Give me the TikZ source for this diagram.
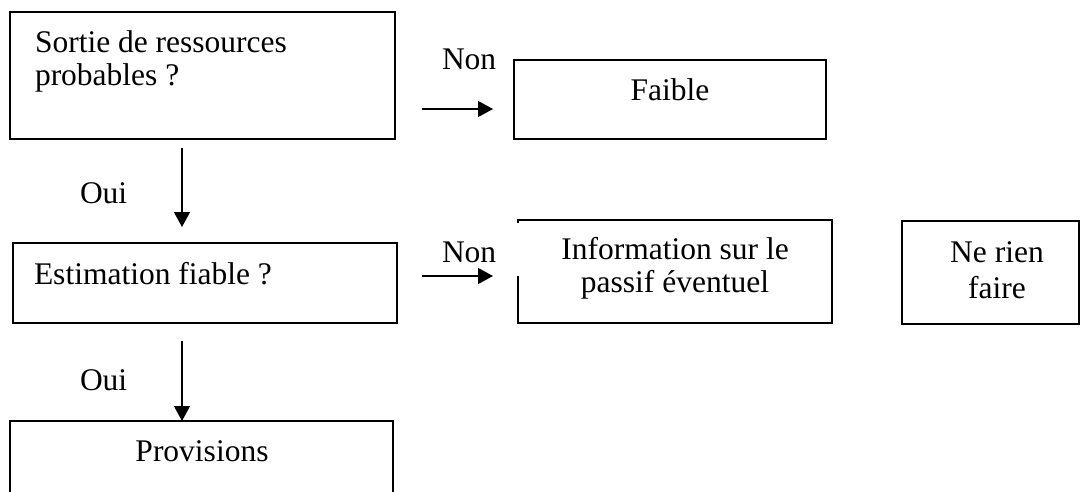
\documentclass[tikz,border=0pt]{standalone}
\usepackage{fontspec}
\setmainfont{Liberation Serif}
\usetikzlibrary{arrows.meta}
\begin{document}
\begin{tikzpicture}[x=1pt,y=-1pt,
  box/.style={draw, line width=1.6pt, rectangle, inner sep=0pt, outer sep=0pt, anchor=north west},
  txt/.style={inner sep=0pt, outer sep=0pt, font=\fontsize{31.5}{34}\selectfont},
  arr/.style={line width=1.3pt, -{Triangle[length=15pt,width=16pt]}}]
\useasboundingbox (0,0) rectangle (1081,492);
\clip (0,0) rectangle (1081,492);
% boxes
\node[box, minimum width=385pt, minimum height=127pt] (b1) at (10,12) {};
\node[box, minimum width=312pt, minimum height=79pt] (fa) at (514,60) {};
\node[box, minimum width=384pt, minimum height=80pt] (b2) at (13,243) {};
\node[box, minimum width=314pt, minimum height=103pt] (in) at (518,220) {};
\node[box, minimum width=177pt, minimum height=103pt] (nr) at (902,221) {};
\node[box, minimum width=383pt, minimum height=100pt] (pr) at (10,421) {};
% gap in the left edge of the information box
\draw[white, line width=2.4pt] ([yshift=-3pt]in.north west) -- ([yshift=-56pt]in.north west);
% texts
\node[txt, anchor=base west] (t1a) at (35,53) {Sortie de ressources};
\node[txt, anchor=base west] (t1b) at (35,86) {probables ?};
\node[txt, anchor=base] (tfa) at (670,101) {Faible};
\node[txt, anchor=base west] (t2) at (34,284) {Estimation fiable ?};
\node[txt, anchor=base] (tina) at (675,259) {Information sur le};
\node[txt, anchor=base] (tinb) at (675,292) {passif éventuel};
\node[txt, anchor=base] (tnra) at (997,262) {Ne rien};
\node[txt, anchor=base] (tnrb) at (997,298) {faire};
\node[txt, anchor=base] (tpr) at (202,461) {Provisions};
\node[txt, anchor=base west] (non1) at (442,70) {Non};
\node[txt, anchor=base west] (non2) at (442,262) {Non};
\node[txt, anchor=base west] (oui1) at (80,203) {Oui};
\node[txt, anchor=base west] (oui2) at (80,390) {Oui};
% connectors
\coordinate (y1) at (0,109);
\coordinate (y2) at (0,276);
\coordinate (xa) at (182,0);
\draw[arr, shorten <=27pt, shorten >=21pt] (b1.east |- y1) -- (fa.west |- y1);
\draw[arr, shorten <=25pt, shorten >=25pt] (b2.east |- y2) -- (in.west |- y2);
\draw[arr, shorten <=9pt, shorten >=16pt] (b1.south -| xa) -- (b2.north -| xa);
\draw[arr, shorten <=18pt] (b2.south -| xa) -- (pr.north -| xa);
\end{tikzpicture}
\end{document}
